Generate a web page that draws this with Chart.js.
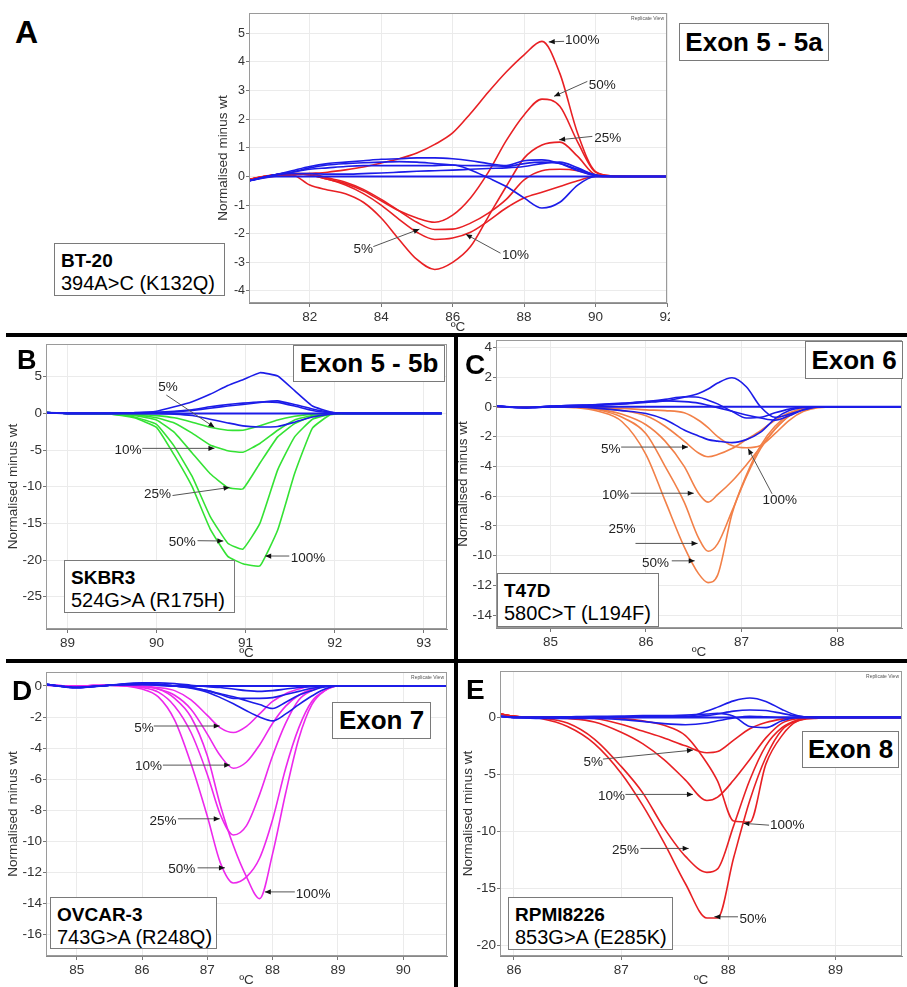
<!DOCTYPE html>
<html><head><meta charset="utf-8">
<script src="https://cdn.jsdelivr.net/npm/chart.js@4.4.1/dist/chart.umd.min.js"></script>
<style>
html,body{margin:0;padding:0;background:#fff;}
body{width:907px;height:987px;position:relative;overflow:hidden;font-family:"Liberation Sans",Arial,sans-serif;}
canvas{position:absolute;}
.box{position:absolute;background:#fff;border:1.5px solid #7a7a7a;box-sizing:border-box;color:#000;z-index:5;white-space:nowrap;}
.exon{font-weight:bold;font-size:26px;display:flex;align-items:center;justify-content:center;}
.cell{font-size:20px;line-height:22px;padding:5px 0 0 6px;}
.cell b{font-size:19px;}
.letter{position:absolute;font-weight:bold;z-index:6;line-height:1;color:#000;}
.rule{position:absolute;background:#000;z-index:7;}
</style></head>
<body>
<canvas id="cA"></canvas><canvas id="cB"></canvas><canvas id="cC"></canvas><canvas id="cD"></canvas><canvas id="cE"></canvas>

<div class="letter" style="left:15px;top:16px;font-size:32px">A</div>
<div class="letter" style="left:17px;top:347px;font-size:27px">B</div>
<div class="letter" style="left:465px;top:351px;font-size:28px">C</div>
<div class="letter" style="left:12px;top:677px;font-size:28px">D</div>
<div class="letter" style="left:466px;top:676px;font-size:28px">E</div>

<div class="box exon" style="left:679px;top:23px;width:150px;height:38px">Exon 5 - 5a</div>
<div class="box cell" style="left:54px;top:243px;width:171px;height:53px"><b>BT-20</b><br>394A&gt;C (K132Q)</div>
<div class="box exon" style="left:293px;top:345px;width:152px;height:37px">Exon 5 - 5b</div>
<div class="box cell" style="left:64px;top:560px;width:171px;height:53px"><b>SKBR3</b><br>524G&gt;A (R175H)</div>
<div class="box exon" style="left:805px;top:341px;width:98px;height:38px">Exon 6</div>
<div class="box cell" style="left:497px;top:573px;width:162px;height:54px"><b>T47D</b><br>580C&gt;T (L194F)</div>
<div class="box exon" style="left:332px;top:702px;width:99px;height:37px">Exon 7</div>
<div class="box cell" style="left:50px;top:897px;width:167px;height:52px"><b>OVCAR-3</b><br>743G&gt;A (R248Q)</div>
<div class="box exon" style="left:802px;top:731px;width:97px;height:37px">Exon 8</div>
<div class="box cell" style="left:508px;top:897px;width:165px;height:53px"><b>RPMI8226</b><br>853G&gt;A (E285K)</div>

<div class="rule" style="left:6px;top:333px;width:901px;height:4px"></div>
<div class="rule" style="left:6px;top:659px;width:901px;height:4px"></div>
<div class="rule" style="left:454px;top:335px;width:4px;height:652px"></div>

<script>
// ===== Panel A: Exon 5 - 5a =====
const tempsA = [80.3, 81, 81.5, 82, 82.5, 83, 83.5, 84, 84.5, 85, 85.5, 86, 86.5, 87, 87.5, 88, 88.5, 89, 89.5, 90, 90.5, 91, 92];
const wtA1 = [-0.15, 0, 0, 0, 0, 0, 0, 0, 0, 0, 0, 0, 0, 0, 0, 0, 0, 0, 0, 0, 0, 0, 0];
const wtA2 = [-0.15, 0.05, 0.2, 0.35, 0.45, 0.5, 0.55, 0.6, 0.62, 0.65, 0.65, 0.62, 0.55, 0.45, 0.38, 0.55, 0.58, 0.45, 0.2, 0.03, 0, 0, 0];
const wtA3 = [-0.15, 0.05, 0.15, 0.3, 0.4, 0.45, 0.48, 0.5, 0.52, 0.5, 0.45, 0.4, 0.38, 0.38, 0.35, 0.45, 0.5, 0.45, 0.25, 0.05, 0, 0, 0];
const wtA4 = [-0.15, 0.05, 0.15, 0.25, 0.3, 0.35, 0.38, 0.38, 0.38, 0.38, 0.38, 0.4, 0.23, -0.05, -0.35, -0.75, -1.1, -0.9, -0.3, 0, 0, 0, 0];
const wtA5 = [-0.15, 0.05, 0.1, 0.1, 0.08, 0.08, 0.1, 0.12, 0.15, 0.18, 0.2, 0.22, 0.25, 0.28, 0.3, 0.35, 0.45, 0.5, 0.3, 0.05, 0, 0, 0];
const mutA5 = [-0.1, 0.05, 0.1, 0.1, -0.05, -0.2, -0.45, -0.8, -1.2, -1.6, -1.85, -1.84, -1.63, -1.28, -0.8, -0.12, 0.2, 0.25, 0.2, 0.03, 0, 0, 0];
const mutA10 = [-0.1, 0.05, 0.1, 0.05, -0.1, -0.3, -0.6, -1.0, -1.5, -1.95, -2.2, -2.15, -1.95, -1.55, -1.1, -0.75, -0.55, -0.35, -0.15, 0, 0, 0, 0];
const mutA25 = [-0.1, 0.05, 0.05, -0.3, -0.47, -0.6, -0.9, -1.45, -2.2, -2.9, -3.25, -3.0, -2.45, -1.4, -0.35, 0.64, 1.1, 1.2, 0.7, 0.06, 0, 0, 0];
const mutA50 = [-0.1, 0.05, 0.1, 0.05, -0.1, -0.25, -0.5, -0.85, -1.2, -1.45, -1.6, -1.35, -0.75, 0.15, 1.25, 2.15, 2.7, 2.45, 1.2, 0.15, 0.02, 0, 0];
const mutA100 = [-0.1, 0, 0.05, 0.1, 0.15, 0.23, 0.33, 0.47, 0.62, 0.82, 1.12, 1.52, 2.2, 2.95, 3.65, 4.25, 4.72, 3.6, 1.5, 0.17, 0.02, 0, 0];
const xTicksA = [82, 84, 86, 88, 90, 92];
const yTicksA = [-4, -3, -2, -1, 0, 1, 2, 3, 4, 5];
// [label, labelX, labelY, lineStartX, lineStartY, arrowX, arrowY]
const notesA = [
  ['100%', 89.63, 4.76, 89.12, 4.72, 88.69, 4.70],
  ['50%', 90.19, 3.2, 89.77, 3.32, 88.84, 2.8],
  ['25%', 90.34, 1.34, 89.91, 1.40, 88.98, 1.28],
  ['5%', 83.5, -2.56, 83.78, -2.45, 85.07, -1.84],
  ['10%', 87.76, -2.77, 87.34, -2.68, 86.37, -2.02]
];

// ===== Panel B: Exon 5 - 5b =====
const tempsB = [88.76, 89, 89.25, 89.5, 89.75, 90, 90.2, 90.4, 90.6, 90.8, 90.97, 91.16, 91.36, 91.55, 91.75, 91.95, 92.15, 92.5, 93.2];
const wtB1 = [0.1, 0, 0, 0, 0, 0, 0, 0, 0, 0, 0, 0, 0, 0, 0, 0, 0, 0, 0];
const wtB2 = [0.1, 0, 0, 0.05, 0.1, 0.3, 0.9, 1.6, 2.6, 3.8, 4.6, 5.55, 5.1, 3.1, 1.0, 0.2, 0, 0, 0];
const wtB3 = [0.1, 0, 0, 0, 0.05, 0.1, 0.2, 0.4, 0.7, 1.0, 1.2, 1.5, 1.7, 1.2, 0.6, 0.15, 0, 0, 0];
const wtB4 = [0.1, 0, 0, 0, 0.05, 0.15, 0.3, 0.5, 0.9, 1.2, 1.4, 1.55, 1.5, 1.0, 0.4, 0.1, 0, 0, 0];
const wtB5 = [0.1, 0, 0, 0, 0, -0.05, -0.1, -0.3, -0.8, -1.3, -1.7, -1.85, -1.8, -1.2, -0.5, -0.1, 0, 0, 0];
const mutB5 = [0.1, 0, 0, 0, -0.1, -0.3, -0.6, -1.2, -1.9, -2.3, -2.3, -1.7, -0.9, -0.4, -0.1, 0, 0, 0, 0];
const mutB10 = [0.1, 0, 0, -0.05, -0.2, -0.6, -1.3, -2.7, -4.3, -5.1, -5.3, -4.1, -2.3, -0.9, -0.3, -0.1, 0, 0, 0];
const mutB25 = [0.1, 0, 0, -0.05, -0.3, -0.9, -2.6, -5.4, -8.2, -10.1, -10.3, -6.8, -3.2, -1.4, -0.4, -0.1, 0, 0, 0];
const mutB50 = [0.1, 0, 0, -0.1, -0.5, -1.5, -4.5, -8.6, -14.0, -17.7, -18.5, -15.0, -7.7, -3.2, -0.8, -0.1, 0, 0, 0];
const mutB100 = [0.1, 0, 0, -0.1, -0.6, -1.9, -5.7, -10.0, -15.7, -19.5, -20.5, -20.8, -15.9, -8.2, -2.0, -0.2, 0, 0, 0];
const xTicksB = [89, 90, 91, 92, 93];
const yTicksB = [-25, -20, -15, -10, -5, 0, 5];
const notesB = [
  ['5%', 90.13, 3.55, 90.11, 2.5, 90.65, -1.9],
  ['10%', 89.68, -5.0, 89.84, -4.77, 90.65, -4.77],
  ['25%', 90.01, -11.0, 90.18, -11.2, 90.82, -10.1],
  ['50%', 90.29, -17.6, 90.46, -17.36, 90.75, -17.4],
  ['100%', 91.70, -19.7, 91.49, -19.45, 91.22, -19.45]
];

// ===== Panel C: Exon 6 =====
const tempsC = [84.43, 84.75, 85, 85.25, 85.5, 85.75, 86, 86.2, 86.4, 86.55, 86.65, 86.75, 86.9, 87.05, 87.2, 87.35, 87.5, 87.65, 87.8, 88, 88.68];
const wtC1 = [0.05, -0.05, 0, 0, 0, 0, 0, 0, 0, 0, 0, 0, 0, 0, 0, 0, 0, 0, 0, 0, 0];
const wtC2 = [0.05, -0.05, 0.05, 0.1, 0.15, 0.2, 0.3, 0.4, 0.65, 0.9, 1.2, 1.6, 1.95, 1.35, 0.0, -0.7, -0.5, -0.2, 0, 0, 0];
const wtC3 = [0.05, -0.05, 0.05, 0.1, 0.15, 0.25, 0.35, 0.5, 0.68, 0.65, 0.45, 0.2, -0.3, -0.75, -0.7, -0.4, -0.15, 0, 0, 0, 0];
const wtC4 = [0.05, -0.05, 0, 0, -0.1, -0.25, -0.45, -0.85, -1.55, -1.95, -2.2, -2.3, -2.4, -2.2, -1.7, -0.8, -0.25, -0.05, 0, 0, 0];
const wtC5 = [0.05, -0.05, 0, 0.05, 0.1, 0.2, 0.35, 0.4, 0.35, 0.25, 0.1, -0.05, -0.3, -0.55, -0.75, -0.9, -0.6, -0.2, 0, 0, 0];
const mutC5 = [0, 0, 0, 0, -0.1, -0.25, -0.6, -1.3, -2.3, -3.1, -3.35, -3.2, -2.8, -2.2, -1.6, -0.9, -0.4, -0.1, 0, 0, 0];
const mutC10 = [0, 0, 0, 0, -0.15, -0.5, -1.2, -2.3, -4.0, -5.8, -6.4, -5.9, -5.0, -3.9, -2.7, -1.5, -0.6, -0.15, 0, 0, 0];
const mutC25 = [0, 0, 0, 0, -0.2, -0.7, -1.8, -4.0, -6.4, -8.8, -9.7, -9.2, -7.0, -4.7, -2.8, -1.5, -0.6, -0.15, 0, 0, 0];
const mutC50 = [0, 0, 0, -0.05, -0.3, -1.0, -3.2, -6.3, -9.4, -11.2, -11.8, -11.3, -7.2, -4.6, -2.6, -1.3, -0.5, -0.1, 0, 0, 0];
const mutC100 = [0, 0, 0, 0, -0.05, -0.1, -0.2, -0.25, -0.4, -0.9, -1.4, -2.0, -2.6, -2.75, -2.6, -1.8, -0.9, -0.3, -0.05, 0, 0];
const xTicksC = [85, 86, 87, 88];
const yTicksC = [-14, -12, -10, -8, -6, -4, -2, 0, 2, 4];
const notesC = [
  ['5%', 85.63, -2.85, 85.74, -2.7, 86.44, -2.7],
  ['10%', 85.68, -5.96, 85.84, -5.8, 86.5, -5.8],
  ['25%', 85.75, -8.2, 85.89, -9.17, 86.54, -9.17],
  ['50%', 86.1, -10.5, 86.27, -10.34, 86.51, -10.34],
  ['100%', 87.4, -6.25, 87.32, -5.84, 87.07, -2.81]
];

// ===== Panel D: Exon 7 =====
const tempsD = [84.53, 85, 85.5, 86, 86.25, 86.5, 86.75, 87, 87.2, 87.4, 87.6, 87.8, 88, 88.2, 88.4, 88.6, 88.8, 89, 89.5, 90, 90.67];
const wtD1 = [0.1, -0.1, 0.05, 0.1, 0.05, 0, 0, 0, 0, 0, 0, 0, 0, 0, 0, 0, 0, 0, 0, 0, 0];
const wtD2 = [0.1, -0.1, 0.05, 0.15, 0.1, 0, -0.1, -0.3, -0.5, -0.7, -0.95, -1.2, -1.45, -1.05, -0.6, -0.3, -0.05, 0, 0, 0, 0];
const wtD3 = [0.1, -0.1, 0.05, 0.15, 0.1, 0, -0.15, -0.4, -0.75, -1.15, -1.6, -2.0, -2.25, -1.8, -1.2, -0.65, -0.2, 0, 0, 0, 0];
const wtD4 = [0.1, -0.1, 0.05, 0.1, 0.05, 0, -0.1, -0.3, -0.55, -0.8, -0.8, -0.8, -0.75, -0.55, -0.35, -0.15, -0.05, 0, 0, 0, 0];
const wtD5 = [0.1, -0.1, 0.05, 0.2, 0.2, 0.15, 0.05, -0.05, -0.1, -0.2, -0.3, -0.35, -0.3, -0.2, -0.1, -0.05, 0, 0, 0, 0, 0];
const mutD5 = [0.05, 0, 0.05, 0, -0.1, -0.3, -0.9, -1.9, -2.7, -3.0, -2.6, -1.8, -1.0, -0.5, -0.2, 0, 0, 0, 0, 0, 0];
const mutD10 = [0.05, 0, 0.05, 0, -0.2, -0.6, -1.5, -3.1, -4.5, -5.3, -4.9, -3.8, -2.4, -1.3, -0.6, -0.2, 0, 0, 0, 0, 0];
const mutD25 = [0.05, 0, 0.05, -0.1, -0.4, -1.3, -3.0, -5.7, -8.3, -9.6, -9.0, -7.0, -4.5, -2.4, -0.9, -0.3, 0, 0, 0, 0, 0];
const mutD50 = [0.05, 0, 0.05, -0.2, -0.7, -2.2, -5.0, -8.4, -11.4, -12.7, -12.3, -11.1, -8.6, -5.3, -2.7, -1.0, -0.3, 0, 0, 0, 0];
const mutD100 = [0.05, 0, 0.05, -0.05, -0.2, -0.8, -2.0, -4.5, -7.7, -10.3, -12.3, -13.7, -10.8, -6.9, -3.4, -1.2, -0.3, 0, 0, 0, 0];
const xTicksD = [85, 86, 87, 88, 89, 90];
const yTicksD = [-16, -14, -12, -10, -8, -6, -4, -2, 0];
const notesD = [
  ['5%', 86.03, -2.73, 86.18, -2.58, 87.19, -2.58],
  ['10%', 86.1, -5.2, 86.32, -5.1, 87.35, -5.1],
  ['25%', 86.32, -8.7, 86.55, -8.56, 87.19, -8.56],
  ['50%', 86.61, -11.83, 86.85, -11.72, 87.27, -11.72],
  ['100%', 88.62, -13.44, 88.34, -13.27, 87.88, -13.27]
];

// ===== Panel E: Exon 8 =====
const tempsE = [85.87, 86, 86.25, 86.5, 86.75, 87, 87.2, 87.4, 87.6, 87.8, 87.9, 88.05, 88.2, 88.35, 88.5, 88.65, 88.8, 89, 89.62];
const wtE1 = [0.1, 0, 0, 0, 0, 0, 0, 0, 0, 0, 0, 0, 0, 0, 0, 0, 0, 0, 0];
const wtE2 = [0.1, 0, 0, 0, 0.05, 0.05, 0.05, 0.05, 0.05, 0.55, 0.9, 1.45, 1.7, 1.4, 0.7, 0.15, 0, 0, 0];
const wtE3 = [0.1, 0, 0, 0.05, 0.1, 0.1, 0.1, 0.05, 0.05, 0.15, 0.3, 0.55, 0.65, 0.6, 0.35, 0.1, 0, 0, 0];
const wtE4 = [0.1, 0, 0, 0.05, 0.05, 0.1, 0.15, 0.15, 0.2, 0.3, 0.35, 0.1, -0.8, -0.9, -0.3, 0, 0, 0, 0];
const wtE5 = [0.1, 0, -0.1, -0.1, -0.1, -0.2, -0.35, -0.55, -0.65, -0.5, -0.3, -0.05, 0.1, 0.05, 0, 0, 0, 0, 0];
const mutE5 = [0.3, 0.1, 0, 0, -0.1, -0.6, -1.2, -1.8, -2.5, -3.1, -3.0, -2.0, -1.0, -0.45, -0.15, 0, 0, 0, 0];
const mutE10 = [0.3, 0.1, 0, -0.1, -0.4, -1.3, -2.3, -3.7, -5.5, -7.3, -7.0, -5.5, -3.7, -1.8, -0.5, -0.1, 0, 0, 0];
const mutE25 = [0.3, 0.1, -0.05, -0.5, -1.9, -4.3, -6.6, -9.7, -12.2, -13.6, -13.3, -9.5, -5.5, -2.5, -0.9, -0.2, 0, 0, 0];
const mutE50 = [0.3, 0.1, -0.1, -0.8, -2.3, -4.9, -7.7, -11.0, -14.6, -17.6, -17.6, -12.3, -7.3, -3.5, -1.1, -0.3, 0, 0, 0];
const mutE100 = [0.3, 0.1, 0, 0, 0, -0.1, -0.3, -0.7, -1.6, -4.0, -5.6, -9.1, -9.2, -4.1, -1.6, -0.3, -0.1, 0, 0];
const xTicksE = [86, 87, 88, 89];
const yTicksE = [-20, -15, -10, -5, 0];
const notesE = [
  ['5%', 86.74, -3.9, 86.83, -3.66, 87.67, -2.87],
  ['10%', 86.91, -6.9, 87.04, -6.76, 87.67, -6.76],
  ['25%', 87.04, -11.65, 87.18, -11.5, 87.63, -11.5],
  ['100%', 88.55, -9.5, 88.38, -9.46, 88.14, -9.3],
  ['50%', 88.23, -17.75, 88.09, -17.5, 87.87, -17.5]
];

// ===== styling =====
const BLUE = 'rgb(28,28,232)';
const FONT = "'Liberation Sans', Arial, Helvetica, sans-serif";
Chart.defaults.font.family = FONT;

function overlay(notes, replicate) {
  return {
    id: 'overlay',
    afterDatasetsDraw(chart) {
      const {ctx, chartArea: a, scales: {x, y}} = chart;
      ctx.save();
      ctx.strokeStyle = '#9a9a9a'; ctx.lineWidth = 1;
      ctx.strokeRect(a.left + 0.5, a.top + 0.5, a.right - a.left - 1, a.bottom - a.top - 1);
      if (replicate) {
        ctx.font = '5px ' + FONT; ctx.fillStyle = '#555';
        ctx.textAlign = 'right'; ctx.textBaseline = 'top';
        ctx.fillText('Replicate View', a.right - 3, a.top + 3);
      }
      ctx.font = '13.5px ' + FONT;
      ctx.textAlign = 'center'; ctx.textBaseline = 'middle';
      for (const n of notes) {
        const sx = x.getPixelForValue(n[3]), sy = y.getPixelForValue(n[4]);
        const ex = x.getPixelForValue(n[5]), ey = y.getPixelForValue(n[6]);
        ctx.strokeStyle = '#555'; ctx.lineWidth = 1;
        ctx.beginPath(); ctx.moveTo(sx, sy); ctx.lineTo(ex, ey); ctx.stroke();
        const ang = Math.atan2(ey - sy, ex - sx), L = 6, W = 2.6;
        ctx.fillStyle = '#111';
        ctx.beginPath();
        ctx.moveTo(ex, ey);
        ctx.lineTo(ex - L * Math.cos(ang) + W * Math.sin(ang), ey - L * Math.sin(ang) - W * Math.cos(ang));
        ctx.lineTo(ex - L * Math.cos(ang) - W * Math.sin(ang), ey - L * Math.sin(ang) + W * Math.cos(ang));
        ctx.closePath(); ctx.fill();
        ctx.fillStyle = '#222';
        ctx.fillText(n[0], x.getPixelForValue(n[1]), y.getPixelForValue(n[2]));
      }
      ctx.restore();
    }
  };
}

function series(temps, vals, color, width, smooth) {
  const d = {
    data: temps.map((t, i) => ({x: t, y: vals[i]})),
    borderColor: color, borderWidth: width, pointRadius: 0, fill: false
  };
  if (smooth) d.cubicInterpolationMode = 'monotone'; else d.tension = 0.12;
  return d;
}

function panel(cfg) {
  const cv = document.getElementById(cfg.id);
  const left = cfg.l - cfg.yW, top = cfg.t - 2;
  const w = cfg.r + 3 - left, h = cfg.b + 32 - top;
  cv.width = w; cv.height = h;
  cv.style.left = left + 'px'; cv.style.top = top + 'px';
  cv.style.width = w + 'px'; cv.style.height = h + 'px';
  const datasets = [];
  cfg.wt.forEach((v, i) => datasets.push(series(cfg.temps, v, BLUE, i === 0 ? 2 : 1.6, cfg.smooth)));
  cfg.mut.forEach(v => datasets.push(series(cfg.temps, v, cfg.color, 1.6, cfg.smooth)));
  new Chart(cv, {
    type: 'line',
    data: {datasets},
    options: {
      responsive: false, animation: false, devicePixelRatio: 1,
      layout: {padding: {top: 2, right: 3, left: 0, bottom: 0}},
      plugins: {legend: {display: false}, tooltip: {enabled: false}},
      scales: {
        x: {
          type: 'linear', min: cfg.xr[0], max: cfg.xr[1],
          afterBuildTicks: s => { s.ticks = cfg.xt.map(v => ({value: v})); },
          afterFit: s => { s.height = 32; s.paddingLeft = 0; s.paddingRight = 0; },
          grid: {color: '#ebebeb', tickLength: 4, tickColor: '#777'},
          border: {color: '#888'},
          ticks: {font: {size: 13.5}, color: '#333', padding: 2, maxRotation: 0, autoSkip: false},
          title: {display: true, text: 'ºC', font: {size: 13.5}, color: '#333', padding: 0}
        },
        y: {
          type: 'linear', min: cfg.yr[0], max: cfg.yr[1],
          afterBuildTicks: s => { s.ticks = cfg.yt.map(v => ({value: v})); },
          afterFit: s => { s.width = cfg.yW; s.paddingTop = 0; s.paddingBottom = 0; },
          grid: {color: '#ebebeb', tickLength: 3, tickColor: '#777'},
          border: {color: '#888'},
          ticks: {font: {size: cfg.yFont}, color: '#333', padding: 1, autoSkip: false},
          title: {display: true, text: 'Normalised minus wt', font: {size: 13.5}, color: '#333', padding: 0}
        }
      }
    },
    plugins: [overlay(cfg.notes, cfg.replicate)]
  });
}

panel({id: 'cA', l: 249, r: 667, t: 13, b: 303, yW: 34, yFont: 12.5, xr: [80.3, 92.0], yr: [-4.42, 5.71],
  temps: tempsA, wt: [wtA1, wtA2, wtA3, wtA4, wtA5], mut: [mutA5, mutA10, mutA25, mutA50, mutA100],
  color: 'rgb(232,32,36)', xt: xTicksA, yt: yTicksA, notes: notesA, replicate: true, smooth: true});
panel({id: 'cB', l: 46, r: 447, t: 344, b: 629, yW: 41, yFont: 13.5, xr: [88.76, 93.26], yr: [-29.4, 9.46],
  temps: tempsB, wt: [wtB1, wtB2, wtB3, wtB4, wtB5], mut: [mutB5, mutB10, mutB25, mutB50, mutB100],
  color: 'rgb(52,226,52)', xt: xTicksB, yt: yTicksB, notes: notesB, replicate: false, smooth: false});
panel({id: 'cC', l: 496, r: 902, t: 340, b: 628, yW: 41, yFont: 13.5, xr: [84.43, 88.68], yr: [-14.85, 4.49],
  temps: tempsC, wt: [wtC1, wtC2, wtC3, wtC4, wtC5], mut: [mutC5, mutC10, mutC25, mutC50, mutC100],
  color: 'rgb(242,128,72)', xt: xTicksC, yt: yTicksC, notes: notesC, replicate: false, smooth: true});
panel({id: 'cD', l: 46, r: 447, t: 672, b: 956, yW: 41, yFont: 13.5, xr: [84.53, 90.67], yr: [-17.4, 0.9],
  temps: tempsD, wt: [wtD1, wtD2, wtD3, wtD4, wtD5], mut: [mutD5, mutD10, mutD25, mutD50, mutD100],
  color: 'rgb(236,40,236)', xt: xTicksD, yt: yTicksD, notes: notesD, replicate: true, smooth: true});
panel({id: 'cE', l: 500, r: 902, t: 671, b: 956, yW: 40, yFont: 13.5, xr: [85.87, 89.62], yr: [-20.94, 4.07],
  temps: tempsE, wt: [wtE1, wtE2, wtE3, wtE4, wtE5], mut: [mutE5, mutE10, mutE25, mutE50, mutE100],
  color: 'rgb(232,32,36)', xt: xTicksE, yt: yTicksE, notes: notesE, replicate: true, smooth: true});
</script>
</body></html>
